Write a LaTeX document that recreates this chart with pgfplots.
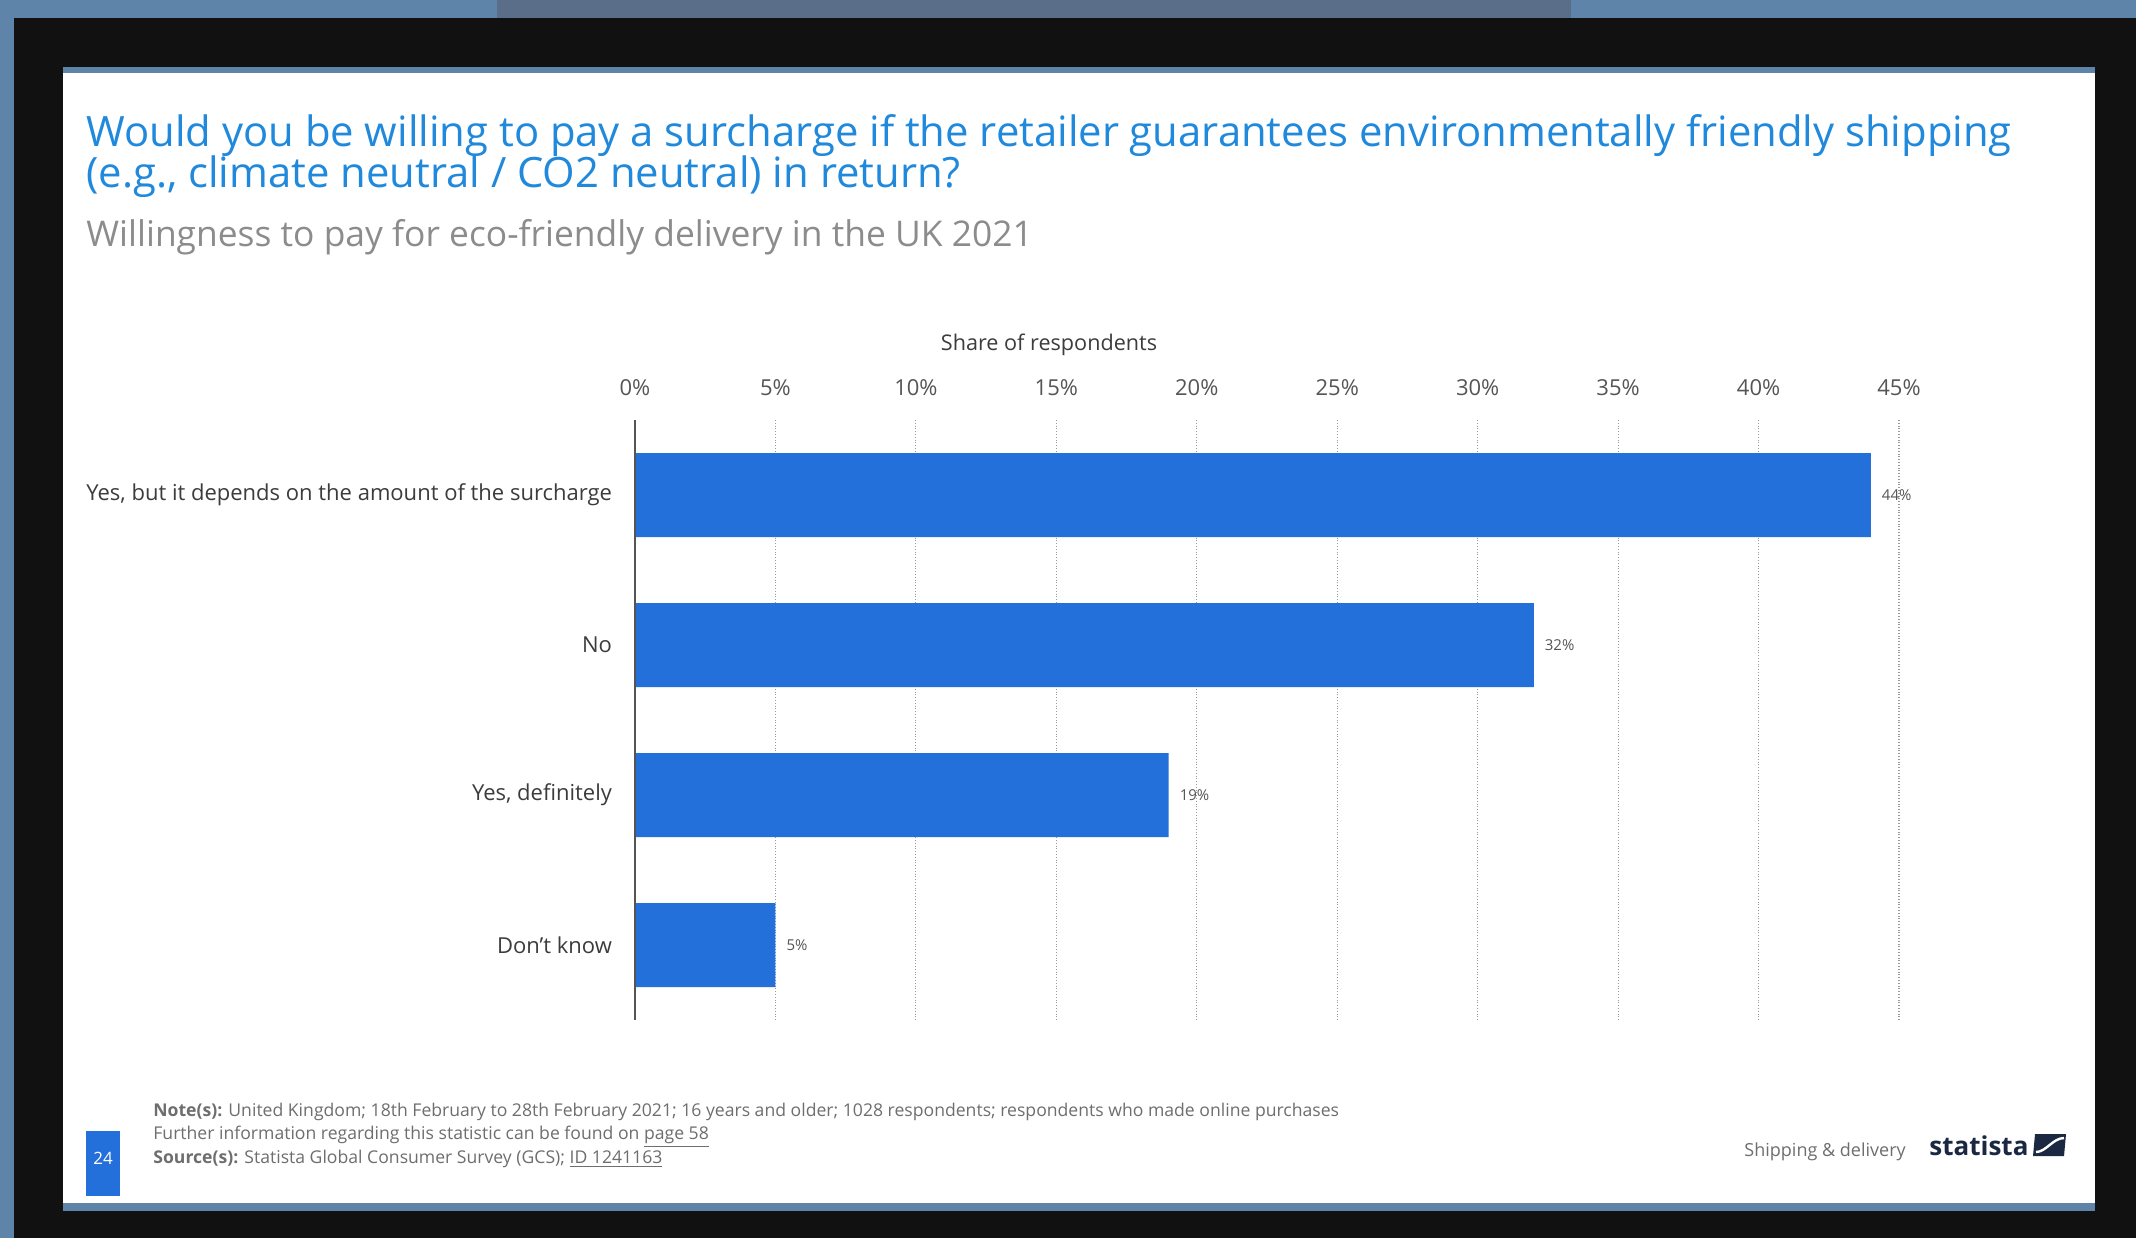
\documentclass[border=0pt]{standalone}
\usepackage{pgfplots}
\pgfplotsset{compat=1.18}
\usepackage{fontspec}
\setmainfont{Open Sans}
\definecolor{barblue}{RGB}{35,112,218}
\definecolor{titleblue}{RGB}{32,137,220}
\definecolor{subgray}{RGB}{140,140,140}
\definecolor{tickgray}{RGB}{85,85,85}
\definecolor{catgray}{RGB}{60,60,60}
\definecolor{bgdark}{RGB}{17,17,17}
\definecolor{bgblue}{RGB}{94,132,170}
\definecolor{bgmid}{RGB}{90,110,138}
\definecolor{navy}{RGB}{27,40,66}
\definecolor{footgray}{RGB}{110,110,110}
\begin{document}
\begin{tikzpicture}
\begin{scope}[x=0.5pt,y=-0.5pt]
\fill[bgdark] (0,0) rectangle (2136,1238);
\fill[bgblue] (0,0) rectangle (2136,18);
\fill[bgmid] (497,0) rectangle (1571,18);
\fill[bgblue] (0,0) rectangle (14,1238);
\fill[bgblue] (63,67) rectangle (2095,73);
\fill[white] (63,73) rectangle (2095,1203);
\fill[bgblue] (63,1203) rectangle (2095,1211);
% titles
\node[anchor=base west, inner sep=0, text=titleblue, font=\fontsize{20.9}{21}\selectfont] at (86,146) {Would you be willing to pay a surcharge if the retailer guarantees environmentally friendly shipping};
\node[anchor=base west, inner sep=0, text=titleblue, font=\fontsize{20.9}{21}\selectfont] at (86,187) {(e.g., climate neutral / CO2 neutral) in return?};
\node[anchor=base west, inner sep=0, text=subgray, font=\fontsize{17.7}{18}\selectfont] at (86,246) {Willingness to pay for eco-friendly delivery in the UK 2021};
\node[anchor=base, inner sep=0, text=catgray, font=\fontsize{10.8}{11}\selectfont] at (1049,350) {Share of respondents};
% footer
\node[anchor=base west, inner sep=0, text=footgray, font=\fontsize{8.8}{9}\selectfont] at (153,1116) {\textbf{Note(s):} United Kingdom; 18th February to 28th February 2021; 16 years and older; 1028 respondents; respondents who made online purchases};
\node[anchor=base west, inner sep=0, text=footgray, font=\fontsize{8.8}{9}\selectfont] at (153,1139) {Further information regarding this statistic can be found on \underline{page 58}};
\node[anchor=base west, inner sep=0, text=footgray, font=\fontsize{8.8}{9}\selectfont] at (153,1163) {\textbf{Source(s):} Statista Global Consumer Survey (GCS); \underline{ID 1241163}};
\fill[barblue] (86,1131) rectangle (120,1196);
\node[text=white, font=\fontsize{8.5}{9}\selectfont, inner sep=0] at (103,1158) {24};
\node[anchor=base west, inner sep=0, text=footgray, font=\fontsize{9}{9}\selectfont] at (1744,1156) {Shipping \& delivery};
\node[anchor=base west, inner sep=0, text=navy, font=\fontsize{13}{13}\selectfont\bfseries] at (1929,1155) {statista};
\fill[navy] (2035,1134) -- (2066,1134) -- (2064,1156) -- (2033,1156) -- cycle;
\draw[white, line width=1.2pt] (2036,1152) .. controls (2046,1152) and (2053,1138) .. (2064,1138);
\end{scope}
\begin{axis}[
  at={(317.5pt,-210pt)}, anchor=north west,
  scale only axis, width=632pt, height=300pt,
  xbar, bar width=42pt,
  xmin=0, xmax=45, ymin=-0.5, ymax=3.5, y dir=reverse,
  axis line style={draw=none},
  xticklabel pos=upper,
  xtick={0,5,...,45},
  xticklabel={\pgfmathprintnumber{\tick}\%},
  ytick={0,1,2,3},
  yticklabels={{Yes, but it depends on the amount of the surcharge},No,{Yes, definitely},Don't know},
  major tick length=0pt,
  xmajorgrids, grid style={densely dotted, gray!80, line width=0.6pt},
  tick label style={font=\fontsize{11}{12}\selectfont},
  xticklabel style={text=tickgray, yshift=8.5pt},
  yticklabel style={text=catgray, xshift=-8pt},
  point meta=x,
  nodes near coords={\pgfmathprintnumber{\pgfplotspointmeta}\%},
  nodes near coords style={font=\fontsize{7.5}{8}\selectfont, text=tickgray, anchor=west, xshift=2pt},
  /pgf/number format/assume math mode=true,
  clip=false,
]
\addplot[fill=barblue, draw=none] coordinates {(44,0) (32,1) (19,2) (5,3)};
\draw[tickgray, line width=0.8pt] (axis cs:0,-0.5) -- (axis cs:0,3.5);
\end{axis}
\end{tikzpicture}
\end{document}
